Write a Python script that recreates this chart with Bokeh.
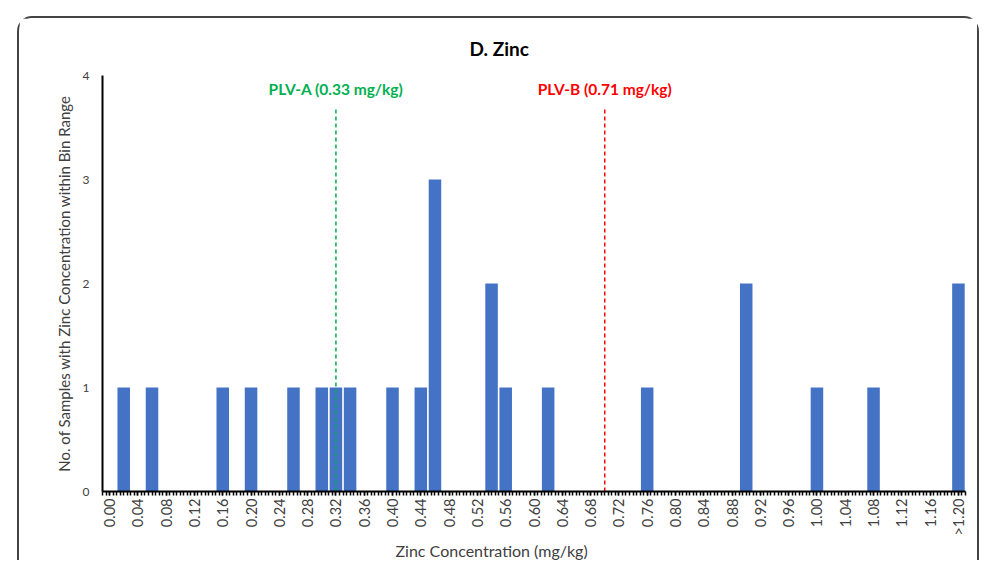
from bokeh.plotting import figure
from bokeh.models import FixedTicker, Title, ColumnDataSource
from bokeh.core.properties import value
from bokeh.embed import file_html
from bokeh.resources import INLINE

# ---- data ----
bin_width = 0.02
bin_lower = [0.02, 0.06, 0.16, 0.20, 0.26, 0.30, 0.32, 0.34, 0.40, 0.44, 0.46,
             0.54, 0.56, 0.62, 0.76, 0.90, 1.00, 1.08, 1.20]
counts = [1, 1, 1, 1, 1, 1, 1, 1, 1, 1, 3,
          2, 1, 1, 1, 2, 1, 1, 2]
n_bins = 61  # 0.00 ... 1.18 and the overflow bin ">1.20"
bin_labels = ["%.2f" % (i * bin_width) for i in range(n_bins - 1)] + [">1.20"]
plv_names = ["PLV-A (0.33 mg/kg)", "PLV-B (0.71 mg/kg)"]
plv_values = [0.33, 0.71]
plv_colors = ["#00B050", "#FF0000"]
y_ticks = [0, 1, 2, 3, 4]
title_text = "D. Zinc"
x_title = "Zinc Concentration (mg/kg)"
y_title = "No. of Samples with Zinc Concentration within Bin Range"

FONT = "Lato"

centers = [round(b + bin_width / 2, 3) for b in bin_lower]
src = ColumnDataSource(dict(x=centers, top=counts))

p = figure(width=962, height=544,
           x_range=(0, n_bins * bin_width), y_range=(0, 4),
           output_backend="svg", toolbar_location=None,
           min_border_left=83, min_border_right=16,
           min_border_top=57, min_border_bottom=71)
p.styles = {"margin-left": "17px", "margin-top": "16px",
            "border": "2px solid #444444", "border-bottom": "none",
            "border-radius": "15px 15px 0 0"}

p.title.text = title_text
p.title.align = "left"
p.title.text_font = FONT
p.title.text_font_size = "19px"
p.title.text_font_style = "bold"
p.title.text_color = "#000000"
p.title.offset = 367
p.title.standoff = 31

p.outline_line_color = None
p.xgrid.grid_line_color = None
p.ygrid.grid_line_color = None
p.background_fill_color = "white"
p.border_fill_color = "white"

p.vbar(x="x", top="top", width=0.0177, source=src,
       fill_color="#4472C4", line_color=None)

# PLV reference lines and labels
for name, v, c in zip(plv_names, plv_values, plv_colors):
    p.segment(x0=[v], y0=[0], x1=[v], y1=[3.68], line_color=c,
              line_width=1.5, line_dash="4 3")
    p.text(x=[v], y=[3.87], text=[name], text_color=c,
           text_font=value(FONT), text_font_size="15.5px",
           text_font_style="bold", text_align="center",
           text_baseline="middle")

# x axis: label every second bin, at bin centres
major = [round(i * bin_width + bin_width / 2, 3) for i in range(0, n_bins, 2)]
minor = [round(i * 0.005, 4) for i in range(0, int(n_bins * bin_width / 0.005) + 1)]
p.xaxis.ticker = FixedTicker(ticks=major, minor_ticks=minor)
p.xaxis.major_label_overrides = {t: bin_labels[int(round((t - bin_width / 2) / bin_width))]
                                 for t in major}
p.xaxis.major_label_orientation = 1.5708
p.xaxis.major_label_text_font = FONT
p.xaxis.major_label_text_font_size = "14.5px"
p.xaxis.major_label_text_color = "#404040"
p.xaxis.major_label_standoff = 3
p.xaxis.axis_line_color = "black"
p.xaxis.axis_line_width = 2
p.xaxis.major_tick_out = 4
p.xaxis.major_tick_in = 0
p.xaxis.minor_tick_out = 4
p.xaxis.minor_tick_in = 0
p.xaxis.major_tick_line_color = "black"
p.xaxis.minor_tick_line_color = "black"
p.xaxis.major_tick_line_width = 1.5
p.xaxis.minor_tick_line_width = 1.5

xt = Title(text=x_title, align="left", offset=293,
           text_font=FONT, text_font_size="16px", text_font_style="normal",
           text_color="#404040", standoff=1)
p.add_layout(xt, "below")

p.yaxis.ticker = FixedTicker(ticks=y_ticks)
p.yaxis.axis_label = y_title
p.yaxis.axis_label_text_font = FONT
p.yaxis.axis_label_text_font_size = "15px"
p.yaxis.axis_label_text_font_style = "normal"
p.yaxis.axis_label_text_color = "#404040"
p.yaxis.axis_label_standoff = 7
p.yaxis.major_label_text_font = FONT
p.yaxis.major_label_text_font_size = "12px"
p.yaxis.major_label_text_color = "#404040"
p.yaxis.major_label_standoff = 13
p.yaxis.axis_line_color = "black"
p.yaxis.axis_line_width = 2
p.yaxis.major_tick_out = 0
p.yaxis.major_tick_in = 0
p.yaxis.minor_tick_out = 0
p.yaxis.minor_tick_in = 0

open("out.html", "w").write(file_html(p, INLINE))
